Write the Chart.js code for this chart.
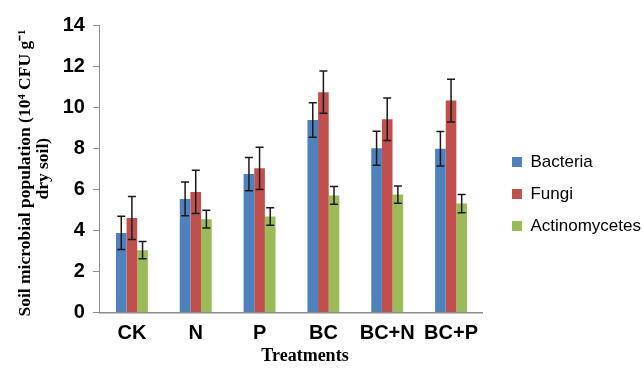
<!DOCTYPE html>
<html>
<head>
<meta charset="utf-8">
<script src="https://cdn.jsdelivr.net/npm/chart.js@4.4.0/dist/chart.umd.min.js"></script>
<style>
  html, body { margin: 0; padding: 0; background: #ffffff; }
  #wrap { width: 644px; height: 368px; position: relative; }
</style>
</head>
<body>
<div id="wrap"><canvas id="c"></canvas></div>
<script>
const categories = ['CK', 'N', 'P', 'BC', 'BC+N', 'BC+P'];
const bacteria    = [3.87, 5.53, 6.74, 9.37, 8.00, 7.97];
const bacteriaErr = [0.81, 0.82, 0.81, 0.84, 0.83, 0.84];
const fungi       = [4.60, 5.87, 7.02, 10.73, 9.41, 10.32];
const fungiErr    = [1.05, 1.05, 1.03, 1.03, 1.04, 1.04];
const actino      = [3.03, 4.54, 4.67, 5.70, 5.74, 5.30];
const actinoErr   = [0.42, 0.43, 0.43, 0.43, 0.42, 0.44];
const yTicks = [0, 2, 4, 6, 8, 10, 12, 14];

const errorBars = {
  id: 'errorBars',
  afterDatasetsDraw(chart) {
    const ctx = chart.ctx;
    const y = chart.scales.y;
    ctx.save();
    ctx.strokeStyle = '#1a1a1a';
    ctx.lineWidth = 1.5;
    chart.data.datasets.forEach((ds, i) => {
      const meta = chart.getDatasetMeta(i);
      meta.data.forEach((bar, j) => {
        const v = ds.data[j], e = ds.errors[j];
        const x = bar.x;
        const yt = y.getPixelForValue(v + e);
        const yb = y.getPixelForValue(v - e);
        ctx.beginPath();
        ctx.moveTo(x, yt); ctx.lineTo(x, yb);
        ctx.moveTo(x - 4, yt); ctx.lineTo(x + 4, yt);
        ctx.moveTo(x - 4, yb); ctx.lineTo(x + 4, yb);
        ctx.stroke();
      });
    });
    ctx.restore();
  }
};

const shiftLegend = {
  id: 'shiftLegend',
  afterLayout(chart) {
    const lg = chart.legend;
    if (lg) { lg.left += 14; lg.right += 14; lg.top -= 2; lg.bottom -= 2; }
  }
};

new Chart(document.getElementById('c'), {
  type: 'bar',
  data: {
    labels: categories,
    datasets: [
      { label: 'Bacteria', data: bacteria, errors: bacteriaErr, backgroundColor: '#4F81BD' },
      { label: 'Fungi', data: fungi, errors: fungiErr, backgroundColor: '#C0504D' },
      { label: 'Actinomycetes', data: actino, errors: actinoErr, backgroundColor: '#9BBB59' }
    ]
  },
  options: {
    responsive: true,
    maintainAspectRatio: false,
    animation: false,
    datasets: { bar: { categoryPercentage: 0.5, barPercentage: 1.0 } },
    layout: { padding: { left: 15, top: 25, right: 7, bottom: 1 } },
    plugins: {
      tooltip: { enabled: false },
      legend: {
        position: 'right',
        labels: {
          boxWidth: 10, boxHeight: 10, padding: 15,
          color: '#000000',
          font: { family: '"Liberation Sans", Arial, sans-serif', size: 17 }
        }
      }
    },
    scales: {
      x: {
        grid: { display: false, drawTicks: false },
        border: { color: '#8c8c8c', width: 1.5 },
        ticks: { color: '#000000', padding: 9, font: { family: '"Liberation Sans", Arial, sans-serif', size: 20, weight: 'bold' } },
        title: {
          display: true,
          text: '\u00a0\u00a0\u00a0\u00a0\u00a0\u00a0Treatments',
          color: '#000000',
          padding: { top: -9, bottom: 0 },
          font: { family: '"Liberation Serif", "Times New Roman", serif', size: 18, weight: 'bold' }
        }
      },
      y: {
        min: 0, max: 14,
        afterBuildTicks(scale) { scale.ticks = yTicks.map(v => ({ value: v })); },
        grid: { drawOnChartArea: false, drawTicks: true, tickLength: 7, color: '#8c8c8c' },
        border: { color: '#8c8c8c', width: 1 },
        ticks: { color: '#000000', padding: 8, font: { family: '"Liberation Sans", Arial, sans-serif', size: 20, weight: 'bold' } },
        title: {
          display: true,
          text: ['Soil microbial population (10\u2074 CFU g\u207B\u00B9\u00a0\u00a0', 'dry soil)'],
          color: '#000000',
          padding: { top: 1, bottom: 2 },
          font: { family: '"Liberation Serif", "Times New Roman", serif', size: 17.5, weight: 'bold', lineHeight: 1.05 }
        }
      }
    }
  },
  plugins: [errorBars, shiftLegend]
});
</script>
</body>
</html>
